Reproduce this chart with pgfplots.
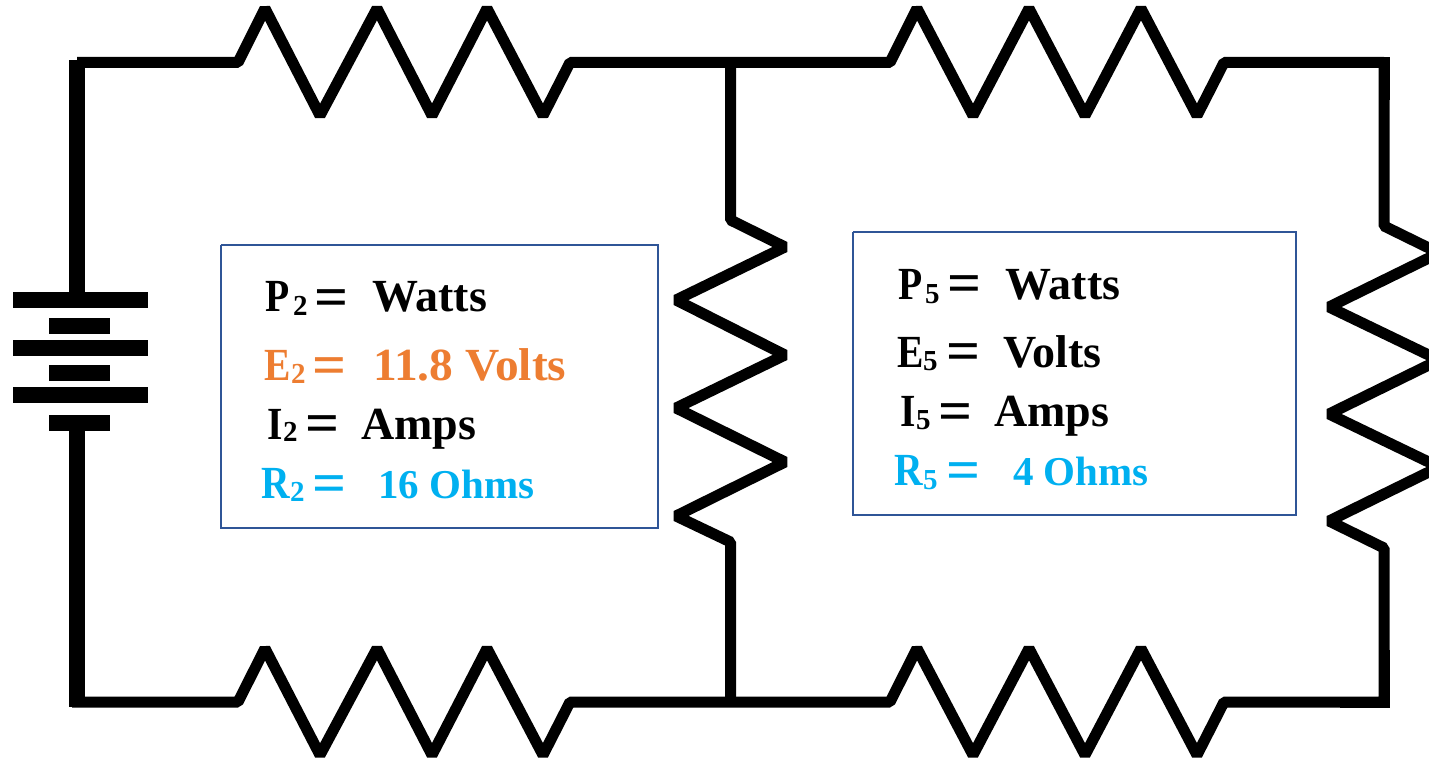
\documentclass[border=0pt]{standalone}
\usepackage{pgfplots}
\pgfplotsset{compat=1.18}
\usepackage{fontspec}
\setmainfont{Liberation Serif}
\definecolor{boxc}{HTML}{2F5597}
\definecolor{org}{HTML}{ED7D31}
\definecolor{cy}{HTML}{00B0F0}
\newcommand{\lb}[1]{\fontsize{46}{46}\selectfont\textbf{#1}}
\newcommand{\lc}[1]{\fontsize{41}{41}\selectfont\textbf{#1}}
\newcommand{\lt}[1]{\fontsize{46}{46}\selectfont\scalebox{.86}[1]{\textbf{#1}}}
\newcommand{\sbx}[1]{\fontsize{29}{29}\selectfont\textbf{#1}}
\newcommand{\eqs}{\fontsize{46}{46}\selectfont\scalebox{1.3}[1.25]{\textbf{=}}}
\tikzset{t/.style={anchor=base west,inner sep=0pt}, e/.style={anchor=center,inner sep=0pt,yshift=-6pt}}
\begin{document}
\begin{tikzpicture}
\path[use as bounding box] (0,0) rectangle (1429pt,759pt);
\begin{axis}[at={(0,0)},anchor=south west,scale only axis,width=1429pt,height=759pt,xmin=0,xmax=1429,ymin=0,ymax=759,y dir=reverse,axis lines=none,ticks=none,clip=true]
\addplot[black,line width=11pt,line join=bevel] coordinates {(77,62.5)(238,62.5)(265,8.5)(320,115.5)(377,8.5)(432,115.5)(487,8.5)(543,115.5)(570,62.5)(890,62.5)(917,8.5)(973,115.5)(1029,8.5)(1085,115.5)(1141,8.5)(1197,115.5)(1224,62.5)(1384,62.5)(1384,226)(1439,253)(1329,307)(1439,360)(1329,414)(1439,467)(1329,521)(1384,548)(1384,702)(1224,702)(1197,755)(1141,648.5)(1085,755)(1029,648.5)(973,755)(917,648.5)(890,702)(570,702)(543,755)(487,648.5)(432,755)(377,648.5)(320,755)(265,648.5)(238,702)(72,702)};
\addplot[black,line width=11pt,line join=miter] coordinates {(1340,62.5)(1384,62.5)(1384,100)};
\addplot[black,line width=11pt,line join=miter] coordinates {(1384,650)(1384,702)(1340,702)};
\addplot[black,line width=16pt] coordinates {(77,60)(77,300)};
\addplot[black,line width=16pt] coordinates {(77,425)(77,707)};
\addplot[black,line width=11pt,line join=bevel] coordinates {(730.5,62)(730.5,220)(785,247)(676,300)(785,355)(676,408)(785,462)(676,516)(730.5,542)(730.5,702)};
\addplot[black,line width=16pt] coordinates {(13,300)(148,300)};
\addplot[black,line width=16pt] coordinates {(49,326)(110,326)};
\addplot[black,line width=16pt] coordinates {(13,348)(148,348)};
\addplot[black,line width=16pt] coordinates {(49,373)(110,373)};
\addplot[black,line width=16pt] coordinates {(13,395)(148,395)};
\addplot[black,line width=16pt] coordinates {(49,423)(110,423)};
\addplot[boxc,line width=2.4pt,fill=white] coordinates {(221,245)(658,245)(658,528)(221,528)(221,245)};
\addplot[boxc,line width=2.4pt,fill=white] coordinates {(853,232)(1296,232)(1296,515)(853,515)(853,232)};
\node[t] at (axis cs:265,312) {\lt{P}};
\node[t] at (axis cs:293,316) {\sbx{2}};
\node[e] at (axis cs:332,297) {\eqs};
\node[t] at (axis cs:372,312) {\lb{Watts}};
\node[t,org] at (axis cs:264,380) {\lt{E}};
\node[t,org] at (axis cs:291,383) {\sbx{2}};
\node[e,org] at (axis cs:330,365) {\eqs};
\node[t,org] at (axis cs:373,380) {\lb{\scalebox{1.03}[1]{11.8 Volts}}};
\node[t] at (axis cs:267,439) {\lt{I}};
\node[t] at (axis cs:283,441) {\sbx{2}};
\node[e] at (axis cs:323,423) {\eqs};
\node[t] at (axis cs:361,439) {\lb{Amps}};
\node[t,cy] at (axis cs:261,498) {\lt{R}};
\node[t,cy] at (axis cs:290,501) {\sbx{2}};
\node[e,cy] at (axis cs:330,483) {\eqs};
\node[t,cy] at (axis cs:378,498) {\lc{16 Ohms}};
\node[t] at (axis cs:898,299) {\lt{P}};
\node[t] at (axis cs:925,303) {\sbx{5}};
\node[e] at (axis cs:965,283) {\eqs};
\node[t] at (axis cs:1005,299) {\lb{Watts}};
\node[t] at (axis cs:897,367) {\lt{E}};
\node[t] at (axis cs:923,370) {\sbx{5}};
\node[e] at (axis cs:964,351) {\eqs};
\node[t] at (axis cs:1003,367) {\lb{Volts}};
\node[t] at (axis cs:900,426) {\lt{I}};
\node[t] at (axis cs:916,429) {\sbx{5}};
\node[e] at (axis cs:956,411) {\eqs};
\node[t] at (axis cs:994,426) {\lb{Amps}};
\node[t,cy] at (axis cs:894,485) {\lt{R}};
\node[t,cy] at (axis cs:923,489) {\sbx{5}};
\node[e,cy] at (axis cs:964,470) {\eqs};
\node[t,cy] at (axis cs:1013,485) {\lc{4 Ohms}};
\end{axis}
\end{tikzpicture}
\end{document}
